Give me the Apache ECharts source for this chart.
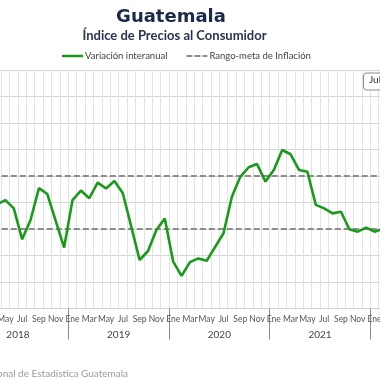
<!DOCTYPE html>
<html>
<head>
<meta charset="utf-8">
<script src="https://cdn.jsdelivr.net/npm/echarts@6/dist/echarts.min.js"></script>
<style>html,body{margin:0;padding:0;background:#fff}#c{width:380px;height:380px}</style>
</head>
<body>
<div id="c"></div>
<script>
// Month categories (Apr 2018 .. Feb 2022)
var months = ['Abr-18','May-18','Jun-18','Jul-18','Ago-18','Sep-18','Oct-18','Nov-18','Dic-18',
  'Ene-19','Feb-19','Mar-19','Abr-19','May-19','Jun-19','Jul-19','Ago-19','Sep-19','Oct-19','Nov-19','Dic-19',
  'Ene-20','Feb-20','Mar-20','Abr-20','May-20','Jun-20','Jul-20','Ago-20','Sep-20','Oct-20','Nov-20','Dic-20',
  'Ene-21','Feb-21','Mar-21','Abr-21','May-21','Jun-21','Jul-21','Ago-21','Sep-21','Oct-21','Nov-21','Dic-21',
  'Ene-22','Feb-22'];
// Year-over-year CPI variation (%)
var variacion = [3.93,4.09,3.78,2.61,3.34,4.54,4.32,3.31,2.30,
  4.09,4.45,4.16,4.75,4.53,4.81,4.35,3.09,1.83,2.17,2.96,3.40,
  1.77,1.23,1.75,1.89,1.80,2.32,2.84,4.22,4.97,5.33,5.45,4.79,
  5.23,5.98,5.82,5.23,5.16,3.91,3.78,3.59,3.65,2.99,2.90,3.05,
  2.90,3.00];
// Target range bounds (%)
var rangoMeta = [3, 5];
// Year band labels
var years = ['2018','2019','2020','2021','2022'];

var FONT = 'Lato';
var chart = echarts.init(document.getElementById('c'), null, {renderer:'canvas'});
chart.setOption({
  animation: false,
  backgroundColor: '#ffffff',
  title: [
    {text: 'Guatemala', left: 166, top: 3, textAlign: 'center',
     textStyle: {fontFamily: 'DejaVu Sans', fontWeight: 'bold', fontSize: 18, color: '#1b2a4c'}},
    {text: 'Índice de Precios al Consumidor', left: 169.5, top: 24, textAlign: 'center',
     textStyle: {fontFamily: FONT, fontWeight: 'bold', fontSize: 13, color: '#2a3350'}}
  ],
  legend: {
    left: 62, top: 51, padding: 0, itemWidth: 21, itemHeight: 2.5, itemGap: 19,
    itemStyle: {borderWidth: 0},
    textStyle: {fontFamily: FONT, fontSize: 9.5, color: '#444', padding: [0,0,0,-3]},
    data: [
      {name: 'Variación interanual', icon: 'rect'},
      {name: 'Rango-meta de Inflación', icon: 'path://M0,0h6v2h-6z M8,0h6v2h-6z M16,0h5v2h-5z'}
    ]
  },
  grid: [
    {left: -7.2, right: -7.1, top: 70, bottom: 71.5, outerBoundsMode: 'none', containLabel: false},
    {left: -32.4, right: -91.1, top: 70, bottom: 71.5, outerBoundsMode: 'none', containLabel: false}
  ],
  xAxis: [
    {type: 'category', gridIndex: 0, data: months, boundaryGap: true,
     axisLine: {show: true, lineStyle: {color: '#cfcfcf', width: 1}},
     axisTick: {show: false},
     splitLine: {show: true, interval: 0, lineStyle: {color: '#e3e3e3', width: 1}},
     axisLabel: {interval: function(i){ return i % 2 === 1; }, margin: 6,
       fontFamily: FONT, fontSize: 8.5, color: '#555',
       formatter: function(v){ return v.split('-')[0]; }}},
    {type: 'category', gridIndex: 1, data: years, boundaryGap: true,
     axisLine: {show: false},
     axisTick: {show: true, interval: 0, length: 31, lineStyle: {color: '#8a8a8a', width: 1}},
     splitLine: {show: false},
     axisLabel: {interval: 0, margin: 21, fontFamily: FONT, fontSize: 10, color: '#444'}}
  ],
  yAxis: [
    {type: 'value', gridIndex: 0, min: 0, max: 9, interval: 1,
     axisLabel: {show: false}, axisLine: {show: false}, axisTick: {show: false},
     splitLine: {show: true, lineStyle: {color: '#d6d6d6', width: 1}}},
    {type: 'value', gridIndex: 1, min: 0, max: 9, show: false, splitLine: {show: false}}
  ],
  series: [
    {name: 'Variación interanual', type: 'line', xAxisIndex: 0, yAxisIndex: 0,
     data: variacion, symbol: 'none', smooth: false, z: 5,
     lineStyle: {color: '#1a9a1a', width: 2.6}, itemStyle: {color: '#1a9a1a'}},
    {name: 'Rango-meta de Inflación', type: 'line', xAxisIndex: 0, yAxisIndex: 0,
     data: [], symbol: 'none', z: 4,
     lineStyle: {color: '#8c8c8c', width: 2, type: [6,3]}, itemStyle: {color: '#8c8c8c'},
     markLine: {silent: true, symbol: 'none', label: {show: false},
       lineStyle: {color: '#8c8c8c', width: 2, type: [6,3]},
       data: rangoMeta.map(function(v){ return {yAxis: v}; })}}
  ],
  graphic: [
    {type: 'rect', left: 363, top: 72.5, shape: {width: 60, height: 17, r: 3},
     style: {fill: '#fff', stroke: '#8a8a8a', lineWidth: 1}, z: 10},
    {type: 'text', left: 369, top: 75, style: {text: 'Jul 2018', fontFamily: FONT, fontSize: 10, fill: '#333'}, z: 11},
    {type: 'text', right: 252, top: 369, style: {text: 'Fuente: Instituto Nacional de Estadística Guatemala',
      fontFamily: FONT, fontSize: 10, fill: '#9a9a9a', textAlign: 'right'}}
  ]
});
</script>
</body>
</html>
